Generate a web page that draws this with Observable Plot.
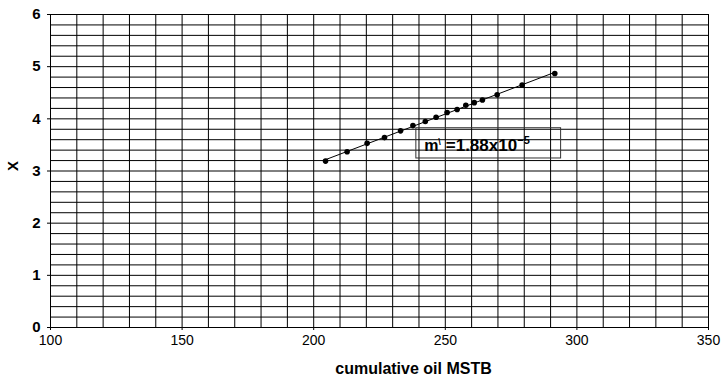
<!DOCTYPE html>
<html>
<head>
<meta charset="utf-8">
<script src="https://cdn.jsdelivr.net/npm/d3@7"></script>
<script src="https://cdn.jsdelivr.net/npm/@observablehq/plot@0.6"></script>
<style>
  html, body { margin: 0; padding: 0; background: #fff; }
</style>
</head>
<body>
<div id="chart"></div>
<script>
// Data
const cumOil = [204.5, 212.7, 220.3, 226.9, 233.0, 237.7, 242.4, 246.5, 250.7, 254.5, 257.8, 261.0, 264.1, 269.7, 279.2, 291.6];
const xValues = [3.19, 3.37, 3.53, 3.64, 3.77, 3.87, 3.95, 4.03, 4.12, 4.18, 4.26, 4.31, 4.36, 4.46, 4.65, 4.87];

const xTicks = [100, 150, 200, 250, 300, 350];
const yTicks = [0, 1, 2, 3, 4, 5, 6];
const xGrid = d3.range(100, 351, 10);
const yGrid = d3.range(0, 31).map(i => i / 5);

const xLabel = "cumulative oil MSTB";
const yLabel = "X";

// Annotation (slope text and its box)
const annoBoxX = [239, 294];
const annoBoxY = [3.24, 3.82];
const annoX = [242];
const annoY = [3.39];

const data = cumOil.map((c, i) => ({c, x: xValues[i]}));

const chart = Plot.plot({
  width: 723,
  height: 381,
  marginLeft: 50,
  marginRight: 15,
  marginTop: 14,
  marginBottom: 54,
  style: {fontFamily: "'Liberation Sans', Arial, sans-serif", background: "#fff", color: "#000"},
  x: {domain: [100, 350]},
  y: {domain: [0, 6]},
  marks: [
    Plot.ruleX(xGrid, {stroke: "#000", strokeWidth: 1}),
    Plot.ruleY(yGrid, {stroke: "#000", strokeWidth: 1}),
    Plot.axisX({ticks: xTicks, tickSize: 3, tickPadding: 5, fontSize: 14, label: null, tickFormat: d => String(d)}),
    Plot.axisY({ticks: yTicks, tickSize: 3, label: null, tickFormat: () => ""}),
    Plot.text(yTicks, {y: d => d, text: d => String(d), frameAnchor: "left", textAnchor: "end", dx: -10, fontSize: 15, fontWeight: "bold", lineAnchor: "middle"}),
    Plot.text([xLabel], {frameAnchor: "bottom", dx: 34, dy: 41.5, fontSize: 16, fontWeight: "bold", lineAnchor: "middle"}),
    Plot.text([yLabel], {frameAnchor: "left", dx: -37, rotate: -90, fontSize: 15, fontWeight: "bold", lineAnchor: "middle"}),
    Plot.linearRegressionY(data, {x: "c", y: "x", stroke: "#000", strokeWidth: 1, ci: 0}),
    Plot.dot(data, {x: "c", y: "x", r: 2.8, fill: "#000"}),
    Plot.rect([0], {x1: () => annoBoxX[0], x2: () => annoBoxX[1], y1: () => annoBoxY[0], y2: () => annoBoxY[1], fill: "none", stroke: "#333", strokeWidth: 1}),
    Plot.text(annoX, {x: d => d, y: () => annoY[0], text: () => "m", textAnchor: "start", lineAnchor: "bottom", fontSize: 16, fontWeight: "bold"}),
    Plot.text(annoX, {x: d => d, y: () => annoY[0], text: () => "\\", textAnchor: "start", lineAnchor: "bottom", dx: 14, dy: -6, fontSize: 9, fontWeight: "bold"}),
    Plot.text(annoX, {x: d => d, y: () => annoY[0], text: () => "=1.88x10", textAnchor: "start", lineAnchor: "bottom", dx: 21.5, fontSize: 17, fontWeight: "bold"}),
    Plot.text(annoX, {x: d => d, y: () => annoY[0], text: () => "\u22125", textAnchor: "start", lineAnchor: "bottom", dx: 93, dy: -7, fontSize: 11, fontWeight: "bold"})
  ]
});
document.getElementById("chart").appendChild(chart);
</script>
</body>
</html>
